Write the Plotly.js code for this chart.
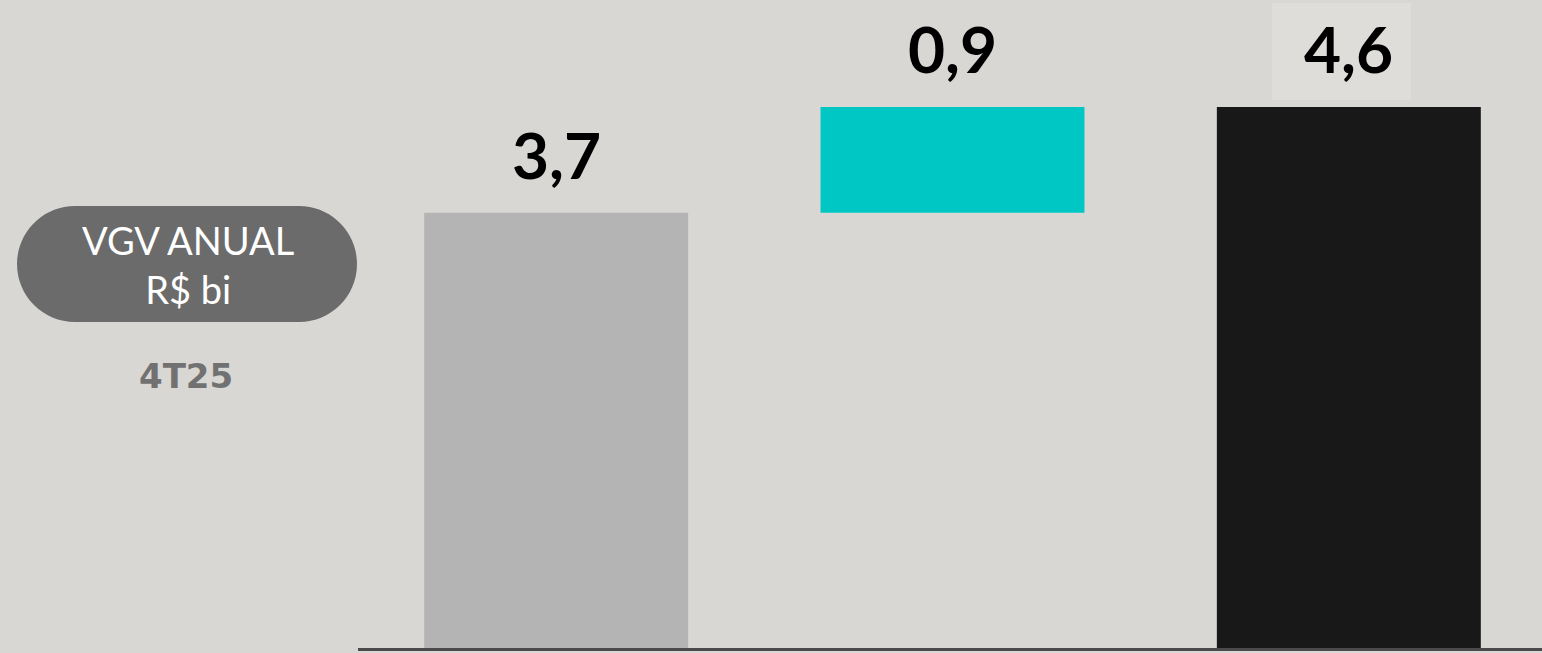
<!DOCTYPE html>
<html>
<head>
<meta charset="utf-8">
<script src="https://cdn.plot.ly/plotly-3.0.1.min.js"></script>
<style>html,body{margin:0;padding:0;background:#d9d7d3;}#chart{width:1542px;height:653px;}</style>
</head>
<body>
<div id="chart"></div>
<script>
// Data
const categories = ["4T25", "Lançamentos", "Total"];
const values = [3.7, 0.9, 4.6];
const bases = [0, 3.7, 0];
const labels = ["3,7", "0,9", "4,6"];
const barColors = ["#b4b4b4", "#00c6c4", "#181818"];

const W = 1542, H = 653;
const ML = 358, MR = 0, MT = 0, MB = 5;
const PW = W - ML - MR, PH = H - MT - MB;
function px(x) { return (x - ML) / PW; }
function py(y) { return (H - MB - y) / PH; }

// rounded pill path in paper coords
function pill(x0, y0, x1, y1) {
  const r = (y1 - y0) / 2, k = 0.5523 * r;
  const P = (x, y) => px(x) + "," + py(y);
  let d = "M" + P(x0 + r, y0) + " L" + P(x1 - r, y0);
  d += " C" + P(x1 - r + k, y0) + " " + P(x1, y0 + r - k) + " " + P(x1, y0 + r);
  d += " C" + P(x1, y0 + r + k) + " " + P(x1 - r + k, y1) + " " + P(x1 - r, y1);
  d += " L" + P(x0 + r, y1);
  d += " C" + P(x0 + r - k, y1) + " " + P(x0, y0 + r + k) + " " + P(x0, y0 + r);
  d += " C" + P(x0, y0 + r - k) + " " + P(x0 + r - k, y0) + " " + P(x0 + r, y0) + " Z";
  return d;
}

const trace = {
  type: "bar",
  x: categories,
  y: values,
  base: bases,
  marker: { color: barColors, line: { width: 0 } },
  width: 0.666,
  hoverinfo: "skip"
};

const tops = values.map((v, i) => v + bases[i]);
const annotations = categories.map((c, i) => ({
  x: c, y: tops[i], xref: "x", yref: "y",
  text: labels[i], showarrow: false,
  yanchor: "bottom", yshift: 18,
  font: { family: "Lato, 'Noto Sans', sans-serif", size: 64, color: "#000000", weight: 700 }
}));
annotations.push({
  xref: "paper", yref: "paper", x: px(188), y: py(264),
  text: "VGV ANUAL<br>R$ bi", showarrow: false,
  xanchor: "center", yanchor: "middle", align: "center",
  font: { family: "Lato, 'Noto Sans', sans-serif", size: 38, color: "#ffffff", weight: 400 }
});
annotations.push({
  xref: "paper", yref: "paper", x: px(186), y: py(376),
  text: "<b>4T25</b>", showarrow: false,
  xanchor: "center", yanchor: "middle",
  font: { family: "'DejaVu Sans', sans-serif", size: 34, color: "#717171" }
});

const layout = {
  width: W, height: H,
  margin: { l: ML, r: MR, t: MT, b: MB, pad: 0 },
  paper_bgcolor: "#d9d7d3",
  plot_bgcolor: "rgba(0,0,0,0)",
  showlegend: false,
  xaxis: {
    range: [-0.5, 2.4874], showgrid: false, zeroline: false,
    showticklabels: false, ticks: "", showline: true,
    linecolor: "#4a4a4a", linewidth: 3, fixedrange: true
  },
  yaxis: {
    range: [0, 5.51], showgrid: false, zeroline: false,
    showticklabels: false, ticks: "", showline: false, fixedrange: true
  },
  shapes: [
    { type: "rect", xref: "paper", yref: "paper", layer: "below",
      x0: px(1272), x1: px(1411), y0: py(100), y1: py(3),
      fillcolor: "#dfddda", line: { width: 0 } },
    { type: "path", xref: "paper", yref: "paper", layer: "above",
      path: pill(17, 206, 357, 322), fillcolor: "#6b6b6b", line: { width: 0 } }
  ],
  annotations: annotations
};

Plotly.newPlot("chart", [trace], layout, { displayModeBar: false, staticPlot: true });
</script>
</body>
</html>
